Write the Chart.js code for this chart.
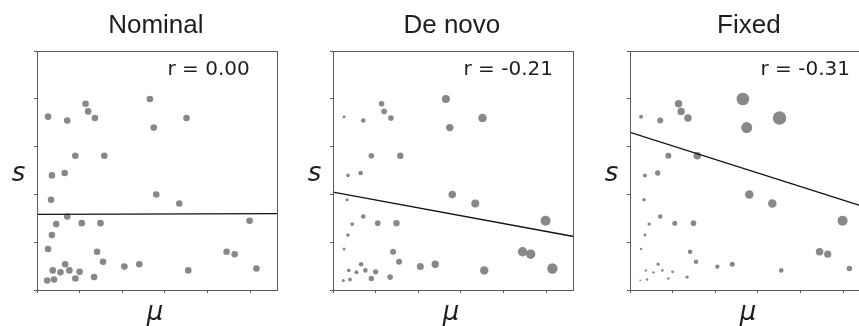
<!DOCTYPE html>
<html>
<head>
<meta charset="utf-8">
<script src="https://cdn.jsdelivr.net/npm/chart.js"></script>
<style>
  body { margin:0; background:#fff; width:859px; height:326px; overflow:hidden; position:relative; }
  .panel { position:absolute; top:0; width:290px; height:326px; }
</style>
</head>
<body>
<div class="panel" style="left:0px"><canvas id="nominal" width="290" height="326"></canvas></div>
<div class="panel" style="left:296px"><canvas id="denovo" width="290" height="326"></canvas></div>
<div class="panel" style="left:593px"><canvas id="fixed" width="290" height="326"></canvas></div>
<script>
// mu (x) and s (y) of every point, same in the three panels
var mu = [0.26, 0.71, 1.14, 1.20, 1.36, 2.65, 2.74, 3.51, 0.90, 1.58, 0.35, 0.65, 0.33, 2.80, 3.34, 0.71, 0.45, 1.05, 1.49, 4.99,
          0.35, 0.26, 1.41, 1.55, 0.66, 2.05, 2.40, 4.45, 4.64, 5.15, 3.55, 0.37, 0.55, 0.76, 1.00, 0.24, 0.40, 0.90, 1.34];
var s  = [3.63, 3.55, 3.90, 3.74, 3.60, 4.00, 3.40, 3.60, 2.81, 2.81, 2.40, 2.45, 1.89, 2.00, 1.81, 1.54, 1.38, 1.40, 1.40, 1.45,
          1.15, 0.86, 0.80, 0.59, 0.54, 0.49, 0.54, 0.80, 0.75, 0.45, 0.41, 0.41, 0.37, 0.41, 0.38, 0.20, 0.22, 0.24, 0.27];

// marker radius per point in each panel
var sizeNominal = [3.3, 3.3, 3.3, 3.3, 3.3, 3.3, 3.3, 3.3, 3.3, 3.3, 3.3, 3.3, 3.3, 3.3, 3.3, 3.3, 3.3, 3.3, 3.3, 3.3,
                   3.3, 3.3, 3.3, 3.3, 3.3, 3.3, 3.3, 3.3, 3.3, 3.3, 3.3, 3.3, 3.3, 3.3, 3.3, 3.3, 3.3, 3.3, 3.3];
var sizeDeNovo  = [1.5, 2.3, 2.8, 2.8, 2.8, 4.0, 3.7, 4.3, 2.8, 3.2, 1.8, 2.3, 1.6, 3.8, 4.0, 2.3, 1.9, 2.8, 3.2, 5.0,
                   1.8, 1.5, 3.0, 3.0, 2.3, 3.5, 3.7, 4.7, 4.7, 5.2, 4.2, 1.8, 2.0, 2.3, 2.7, 1.5, 1.9, 2.7, 2.8];
var sizeFixed   = [2.0, 3.0, 3.7, 3.7, 3.7, 6.3, 5.5, 6.7, 3.0, 3.8, 2.0, 2.7, 1.8, 4.3, 4.3, 2.2, 1.7, 2.5, 2.8, 5.0,
                   1.5, 1.2, 2.3, 2.2, 1.6, 2.2, 2.5, 3.8, 3.6, 2.8, 2.3, 1.2, 1.2, 1.3, 1.4, 0.9, 1.2, 1.3, 1.7];

// fitted line: s at mu = 0 and at mu = muMax
var muMax = 5.65;
var fitNominal = [1.585, 1.60];
var fitDeNovo  = [2.05, 1.12];
var fitFixed   = [3.30, 1.70];

var titles = ['Nominal', 'De novo', 'Fixed'];
var rLabels = ['r = 0.00', 'r = -0.21', 'r = -0.31'];

var spine = '#5a5a5a';

var panelText = {
  id: 'panelText',
  afterDraw: function(chart, args, opts) {
    var ca = chart.chartArea, ctx = chart.ctx;
    ctx.save();
    ctx.strokeStyle = spine;
    ctx.lineWidth = 1;
    var l = Math.floor(ca.left) + 0.5, t = Math.floor(ca.top) + 0.5;
    var r = Math.floor(ca.right) + 0.5, b = Math.floor(ca.bottom) + 0.5;
    ctx.strokeRect(l, t, r - l, b - t);
    ctx.fillStyle = '#1e1e1e';
    ctx.font = 'italic 26px "DejaVu Sans"';
    ctx.textAlign = 'center';
    ctx.textBaseline = 'alphabetic';
    ctx.fillText('s', ca.left - 18.5, ca.bottom - 109);
    ctx.fillText('\u03bc', ca.left + 118, ca.bottom + 30);
    ctx.font = '20px "DejaVu Sans"';
    ctx.textAlign = 'left';
    ctx.fillText(opts.text, ca.left + 130.5, ca.top + 24);
    ctx.restore();
  }
};

function drawPanel(id, title, sizes, fit, rText) {
  var pts = [];
  for (var i = 0, len = mu.length; i < len; i++) {
    pts.push({x: mu[i], y: s[i]});
  }
  var axis = function(max) {
    return {
      type: 'linear',
      min: 0,
      max: max,
      ticks: { display: false, stepSize: 1, includeBounds: false },
      grid: { drawOnChartArea: false, drawTicks: true, tickLength: 3, color: spine, lineWidth: 1 },
      border: { display: true, color: spine, width: 1 }
    };
  };
  var ctx = document.getElementById(id).getContext('2d');
  return new Chart(ctx, {
    type: 'scatter',
    data: {
      datasets: [
        {
          label: 'fit',
          data: [{x: 0, y: fit[0]}, {x: muMax, y: fit[1]}],
          showLine: true,
          borderColor: '#111',
          borderWidth: 1.3,
          pointRadius: 0
        },
        {
          label: 'points',
          data: pts,
          pointRadius: sizes,
          pointBackgroundColor: '#888888',
          pointBorderWidth: 0
        }
      ]
    },
    options: {
      responsive: false,
      animation: false,
      events: [],
      layout: { padding: { left: 34, right: 12.3, top: 0, bottom: 33 } },
      plugins: {
        legend: { display: false },
        tooltip: { enabled: false },
        title: {
          display: true,
          text: title,
          color: '#1e1e1e',
          font: { family: '"Liberation Sans", Arial, sans-serif', size: 26, weight: 'normal' },
          padding: { top: 10, bottom: 10 }
        },
        panelText: { text: rText }
      },
      scales: {
        x: axis(muMax),
        y: axis(5)
      }
    },
    plugins: [panelText]
  });
}

drawPanel('nominal', titles[0], sizeNominal, fitNominal, rLabels[0]);
drawPanel('denovo', titles[1], sizeDeNovo, fitDeNovo, rLabels[1]);
drawPanel('fixed', titles[2], sizeFixed, fitFixed, rLabels[2]);
</script>
</body>
</html>
